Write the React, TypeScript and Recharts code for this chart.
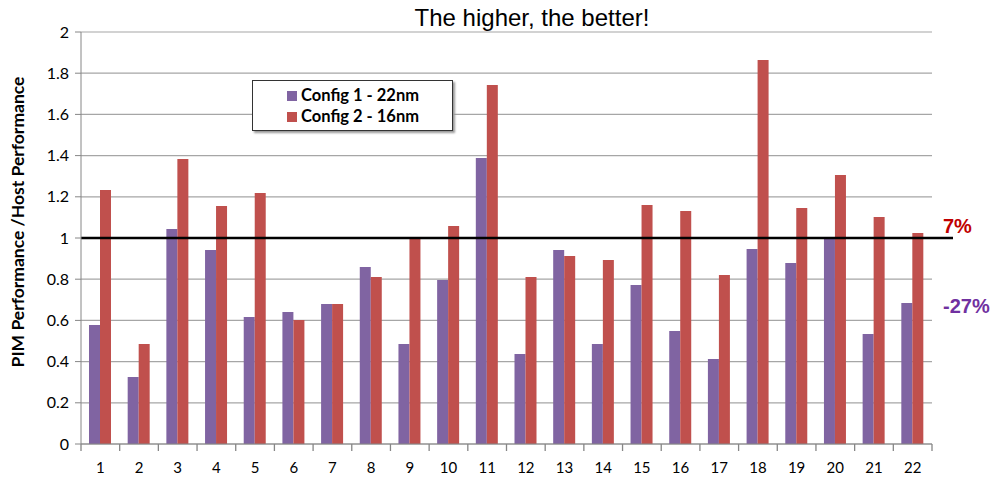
import React from "react"
import { Bar, BarChart, CartesianGrid, ReferenceLine, XAxis, YAxis } from "recharts"

const categories = ["1", "2", "3", "4", "5", "6", "7", "8", "9", "10", "11", "12", "13", "14", "15", "16", "17", "18", "19", "20", "21", "22"]
const config1 = [0.578, 0.325, 1.044, 0.942, 0.617, 0.641, 0.68, 0.859, 0.485, 0.796, 1.388, 0.437, 0.942, 0.485, 0.772, 0.549, 0.413, 0.947, 0.879, 1.0, 0.534, 0.684]
const config2 = [1.233, 0.485, 1.383, 1.155, 1.218, 0.602, 0.68, 0.811, 1.0, 1.058, 1.743, 0.811, 0.913, 0.893, 1.16, 1.131, 0.82, 1.864, 1.146, 1.306, 1.102, 1.024]
const yTicks = [0, 0.2, 0.4, 0.6, 0.8, 1, 1.2, 1.4, 1.6, 1.8, 2]
const seriesNames = ["Config 1 - 22nm", "Config 2 - 16nm"]

const data = categories.map((name, i) => ({ name, c1: config1[i], c2: config2[i] }))

const W = 995
const H = 478
const M = { top: 32, right: 63, bottom: 0, left: 31 }
const BAND = (W - 81 - M.right) / categories.length
const PURPLE = "#8064A2"
const RED = "#C0504D"
const AXIS = "#868686"
const FONT = "Lato, 'Open Sans', sans-serif"
const ARIAL = "'Liberation Sans', Arial, sans-serif"

function XTick(props: any) {
  const { x, y, payload, index } = props
  const last = index === categories.length - 1
  return (
    <g>
      <line x1={x - BAND / 2} x2={x - BAND / 2} y1={y} y2={y + 7} stroke={AXIS} strokeWidth={1.3} />
      {last && <line x1={x + BAND / 2} x2={x + BAND / 2} y1={y} y2={y + 7} stroke={AXIS} strokeWidth={1.3} />}
      <text x={x} y={y + 29} textAnchor="middle" fontSize={15} fill="#000" fontFamily={FONT}>
        {payload.value}
      </text>
    </g>
  )
}

function LegendBox() {
  const items = [
    { label: seriesNames[0], color: PURPLE },
    { label: seriesNames[1], color: RED },
  ]
  return (
    <div
      style={{
        position: "absolute",
        left: 252,
        top: 80,
        width: 201,
        height: 51,
        border: "1px solid #333",
        boxShadow: "2px 2px 2px #999",
        background: "#fff",
        boxSizing: "border-box",
        padding: "4px 0 0 34px",
        fontFamily: FONT,
        fontWeight: 700,
        fontSize: 16.5,
        lineHeight: 1,
      }}
    >
      {items.map((it) => (
        <div key={it.label} style={{ display: "flex", alignItems: "center", height: 21 }}>
          <span style={{ width: 10, height: 10, background: it.color, marginRight: 4, flex: "none" }} />
          <span style={{ whiteSpace: "nowrap" }}>{it.label}</span>
        </div>
      ))}
    </div>
  )
}

export default function App() {
  return (
    <div style={{ position: "absolute", left: 0, top: 0, width: W, height: H, background: "#fff" }}>
      <BarChart width={W} height={H} data={data} margin={M} barGap={0} barSize={11}>
        <CartesianGrid vertical={false} stroke="#A6A6A6" strokeWidth={1.2} />
        <XAxis
          dataKey="name"
          stroke={AXIS}
          tickSize={0}
          tickMargin={0}
          tick={<XTick />}
          interval={0}
          height={34}
        />
        <YAxis
          domain={[0, 2]}
          ticks={yTicks}
          width={50}
          stroke={AXIS}
          tickSize={6}
          tickMargin={6}
          tick={{ fill: "#000", fontSize: 16, fontFamily: FONT }}
          tickFormatter={(v) => `${v}`}
        />
        <Bar dataKey="c1" name={seriesNames[0]} fill={PURPLE} isAnimationActive={false} />
        <Bar dataKey="c2" name={seriesNames[1]} fill={RED} isAnimationActive={false} />
        <ReferenceLine
          y={1}
          ifOverflow="visible"
          shape={(p: any) => <line x1={p.x1} y1={p.y1} x2={p.x2 + 21} y2={p.y2} stroke="#000" strokeWidth={2.5} />}
        />
      </BarChart>
      <LegendBox />
      <svg width={W} height={H} style={{ position: "absolute", left: 0, top: 0, pointerEvents: "none" }}>
        <text x={532} y={26} textAnchor="middle" fontSize={24} fontFamily={ARIAL} fill="#000">
          The higher, the better!
        </text>
        <text
          x={0}
          y={0}
          transform="translate(24, 222) rotate(-90)"
          textAnchor="middle"
          fontSize={17.5}
          fontWeight={700}
          fontFamily={FONT}
          fill="#000"
        >
          PIM Performance /Host Performance
        </text>
        <text x={943} y={233} fontSize={20} fontWeight={700} fontFamily={ARIAL} fill="#C00000">
          7%
        </text>
        <text x={943} y={313} fontSize={20} fontWeight={700} fontFamily={ARIAL} fill="#7030A0">
          -27%
        </text>
      </svg>
    </div>
  )
}
